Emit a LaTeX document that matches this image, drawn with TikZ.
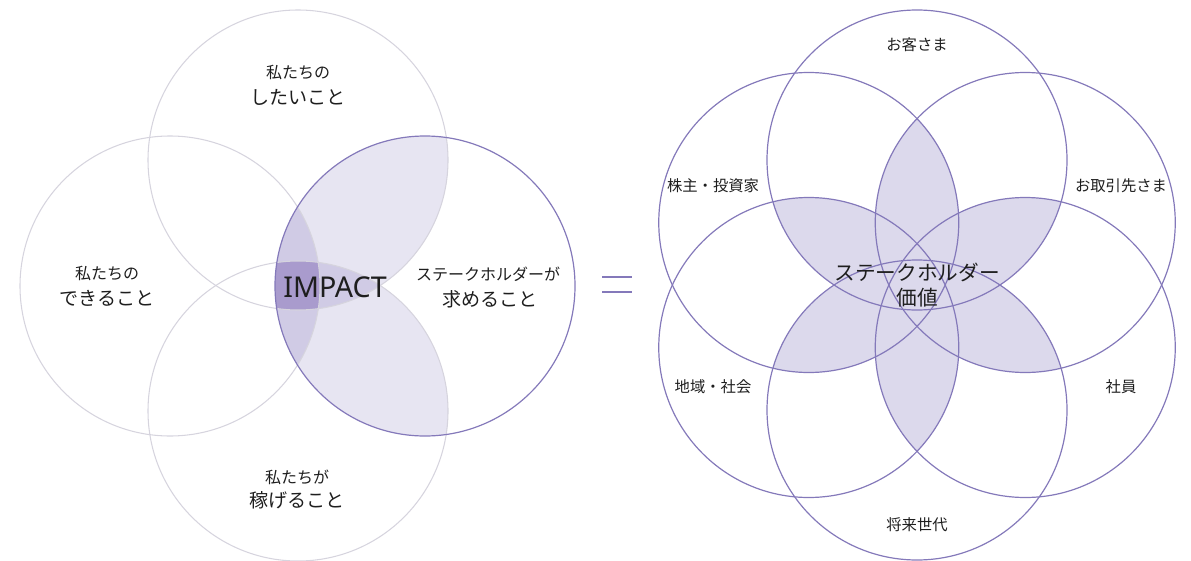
\documentclass[tikz,border=0pt]{standalone}
\usepackage{fontspec}
\setmainfont{Noto Sans CJK JP}
\newfontfamily\latinfont{Noto Sans}
\definecolor{pline}{HTML}{8479BA}
\definecolor{gline}{HTML}{D6D4DE}
\definecolor{petal}{HTML}{DCD9EC}
\definecolor{lite}{HTML}{E7E5F2}
\definecolor{mid}{HTML}{D0CBE5}
\definecolor{dark}{HTML}{A99BCD}
\definecolor{txt}{HTML}{1E1E1E}
\tikzset{
  rr/.style={radius=112.5pt},
  gcirc/.style={draw=gline, line width=0.8pt},
  pcirc/.style={draw=pline, line width=0.9pt},
  small/.style={inner sep=0pt, text=txt, font=\fontsize{12pt}{14pt}\selectfont},
  big/.style={inner sep=0pt, text=txt, font=\fontsize{14.3pt}{16pt}\selectfont},
  lab/.style={inner sep=0pt, text=txt, font=\fontsize{11.5pt}{13pt}\selectfont},
  center/.style={inner sep=0pt, text=txt, font=\fontsize{15.5pt}{17pt}\selectfont},
}
\begin{document}
\begin{tikzpicture}[x=0.75pt,y=-0.75pt]
\useasboundingbox (0,0) rectangle (1191,560);
% ---------- left diagram ----------
\coordinate (T) at (298,160);
\coordinate (L) at (170,286);
\coordinate (B) at (298,411);
\coordinate (R) at (425,286);
\begin{scope}
  \clip (R) circle[rr];
  \fill[lite] (T) circle[rr];
  \fill[lite] (B) circle[rr];
  \fill[mid] (L) circle[rr];
  \begin{scope}
    \clip (T) circle[rr];
    \fill[mid] (B) circle[rr];
  \end{scope}
  \begin{scope}
    \clip (L) circle[rr];
    \clip (T) circle[rr];
    \fill[dark] (B) circle[rr];
  \end{scope}
\end{scope}
\draw[gcirc] (T) circle[rr];
\draw[gcirc] (L) circle[rr];
\draw[gcirc] (B) circle[rr];
\draw[pcirc] (R) circle[rr];

\node[small] (t1) at (298,72) {私たちの};
\node[big]   (t2) at (298,97) {したいこと};
\node[small] (l1) at (107,273) {私たちの};
\node[big]   (l2) at (107,298) {できること};
\node[small] (r1) at (488,274) {ステークホルダーが};
\node[big]   (r2) at (490,299) {求めること};
\node[small] (b1) at (297,477) {私たちが};
\node[big]   (b2) at (297,500) {稼げること};
\node[inner sep=0pt, text=txt, font=\latinfont\fontsize{21.5pt}{23pt}\selectfont] (imp) at (335,287) {IMPACT};

% ---------- equals ----------
\draw[pline, line width=1.8pt] (602,277) -- (632,277);
\draw[pline, line width=1.8pt] (602,292) -- (632,292);

% ---------- right diagram ----------
\coordinate (F0) at (917,160);
\coordinate (F1) at (1025.25,222.5);
\coordinate (F2) at (1025.25,347.5);
\coordinate (F3) at (917,410);
\coordinate (F4) at (808.75,347.5);
\coordinate (F5) at (808.75,222.5);
\foreach \a/\b in {F0/F2,F1/F3,F2/F4,F3/F5,F4/F0,F5/F1}{
  \begin{scope}
    \clip (\a) circle[rr];
    \fill[petal] (\b) circle[rr];
  \end{scope}
}
\foreach \a in {F0,F1,F2,F3,F4,F5}{
  \draw[pcirc] (\a) circle[rr];
}
\node[lab] (s0) at (917,45) {お客さま};
\node[lab] (s1) at (1121,186) {お取引先さま};
\node[lab] (s2) at (1121,387) {社員};
\node[lab] (s3) at (917,525) {将来世代};
\node[lab] (s4) at (713,387) {地域・社会};
\node[lab] (s5) at (713,186) {株主・投資家};
\node[center] (c1) at (917,272) {ステークホルダー};
\node[center] (c2) at (917,298) {価値};
\end{tikzpicture}
\end{document}
